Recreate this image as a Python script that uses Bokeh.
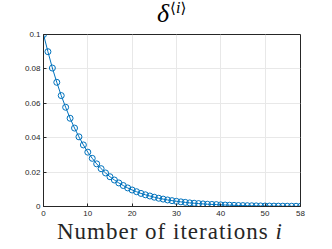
from bokeh.plotting import figure
from bokeh.models import FixedTicker, LinearAxis, Range1d, Div
from bokeh.layouts import column
from bokeh.embed import file_html
from bokeh.resources import INLINE

iterations = list(range(0, 59))
delta = [0.1, 0.0900, 0.0805, 0.0722, 0.0645, 0.0577, 0.0513, 0.0456, 0.0405,
         0.0358, 0.0316, 0.0280, 0.0248, 0.0220, 0.0195, 0.0173, 0.0154, 0.0137,
         0.0122, 0.0108, 0.0096, 0.0086, 0.0076, 0.0068, 0.0061, 0.0054, 0.0048,
         0.0043, 0.0038, 0.0034, 0.0030, 0.0027, 0.0024, 0.0021, 0.0019, 0.0017,
         0.0015, 0.0013, 0.0012, 0.0011, 0.00095, 0.00084, 0.00075, 0.00067,
         0.00059, 0.00053, 0.00047, 0.00042, 0.00037, 0.00033, 0.00030, 0.00026,
         0.00023, 0.00021, 0.00019, 0.00017, 0.00015, 0.00013, 0.00012]
x_ticks = [0, 10, 20, 30, 40, 50, 58]
y_ticks = [0, 0.02, 0.04, 0.06, 0.08, 0.1]
y_tick_labels = {0: "0", 0.02: "0.02", 0.04: "0.04", 0.06: "0.06", 0.08: "0.08", 0.1: "0.1"}

blue = "#0072BD"
axc = "#262626"

title_html = (
    '<div style="position:relative;width:316px;height:27px;">'
    '<span style="position:absolute;left:157px;top:1px;line-height:26px;white-space:nowrap;">'
    '<i style="font-family:\'Liberation Serif\';font-size:26px;color:#000;">δ</i>'
    '<span style="position:relative;top:-9px;margin-left:1px;font-size:15px;color:#000;">'
    '<span style="font-family:\'DejaVu Serif\';">⟨</span>'
    '<i style="font-family:\'Liberation Serif\';font-size:16px;">i</i>'
    '<span style="font-family:\'DejaVu Serif\';">⟩</span></span></span></div>'
)
xlabel_html = (
    '<div style="position:relative;width:316px;height:25px;">'
    '<span style="position:absolute;left:57px;top:0px;line-height:24px;white-space:nowrap;'
    'font-family:\'Liberation Serif\';font-size:23px;letter-spacing:1px;color:#262626;">'
    'Number of iterations <i>i</i></span></div>'
)
title_div = Div(text=title_html, width=316, height=27, margin=0)
xlabel_div = Div(text=xlabel_html, width=316, height=25, margin=0)

p = figure(width=316, height=193, output_backend="svg", toolbar_location=None,
           x_range=Range1d(0, 58), y_range=Range1d(0, 0.1),
           x_axis_location=None, y_axis_location=None,
           min_border_left=43, min_border_right=16, min_border_top=7, min_border_bottom=14,
           margin=0)
p.outline_line_color = axc
p.outline_line_alpha = 1.0
p.background_fill_color = "white"
p.border_fill_color = "white"

def make_axis():
    a = LinearAxis()
    a.axis_line_color = axc
    a.axis_line_width = 1
    a.major_tick_line_color = axc
    a.major_tick_in = 3
    a.major_tick_out = 0
    a.minor_tick_line_color = None
    a.major_label_text_font = "Liberation Sans"
    a.major_label_text_font_size = "8px"
    a.major_label_text_color = axc
    return a

xb = make_axis(); xb.ticker = FixedTicker(ticks=x_ticks); xb.major_label_standoff = 4
yl = make_axis(); yl.ticker = FixedTicker(ticks=y_ticks); yl.major_label_overrides = y_tick_labels
yl.major_label_standoff = 3
p.add_layout(xb, "below")
p.add_layout(yl, "left")

p.xgrid.ticker = FixedTicker(ticks=x_ticks)
p.ygrid.ticker = FixedTicker(ticks=y_ticks)
p.xgrid.grid_line_color = "#e8e8e8"
p.ygrid.grid_line_color = "#e8e8e8"

p.line(iterations, delta, line_color=blue, line_width=1)
p.scatter(iterations, delta, marker="circle", size=6, fill_color=None,
          line_color=blue, line_width=1)

layout = column(title_div, p, xlabel_div, spacing=0, margin=0)
open("out.html", "w").write(file_html(layout, INLINE))
